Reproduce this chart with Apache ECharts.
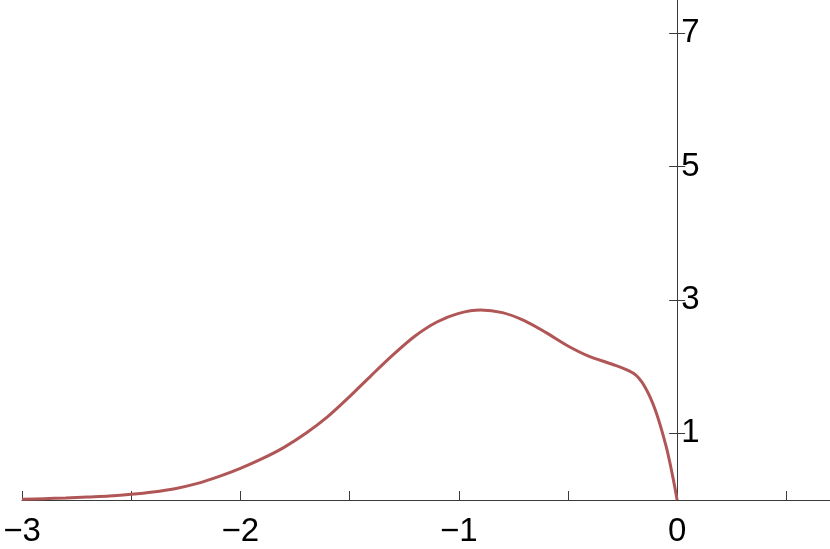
<!DOCTYPE html>
<html>
<head>
<meta charset="utf-8">
<script src="https://cdn.jsdelivr.net/npm/echarts@6/dist/echarts.min.js"></script>
<style>
  html, body { margin: 0; padding: 0; background: #fff; }
  #chart { width: 830px; height: 549px; }
</style>
</head>
<body>
<div id="chart"></div>
<script>
// curve samples
const xValues = [
  -3, -2.9, -2.8, -2.7, -2.6, -2.5, -2.4, -2.3, -2.2, -2.1,
  -2, -1.9, -1.8, -1.7, -1.6, -1.5, -1.4, -1.3, -1.2, -1.1,
  -1, -0.9, -0.8, -0.7, -0.6, -0.5, -0.4, -0.3, -0.2, -0.15,
  -0.1, -0.05, -0.02, 0
]
const yValues = [
  0.01, 0.02, 0.03, 0.045, 0.06, 0.085, 0.12, 0.17, 0.245, 0.35,
  0.475, 0.62, 0.79, 1.0, 1.25, 1.55, 1.87, 2.18, 2.46, 2.67,
  2.8, 2.85, 2.81, 2.69, 2.51, 2.31, 2.15, 2.04, 1.9, 1.71,
  1.35, 0.8, 0.35, 0
]

const xTicks = [-3, -2.5, -2, -1.5, -1, -0.5, 0, 0.5]
const xLabels = [-3, -2, -1, 0]
const yTicks = [1, 3, 5, 7]

const AXIS_COLOR = '#3a3a3a'
const CURVE_COLOR = '#b15656'
const FONT = 'Liberation Sans, Arial, sans-serif'
const GRID_LEFT = 22
const GRID_RIGHT = 0

const chart = echarts.init(document.getElementById('chart'), null, { renderer: 'canvas' })

function fmtMinus(v) {
  return v < 0 ? '\u2212' + Math.abs(v) : String(v)
}

function yAxisBase() {
  return {
    type: 'value',
    min: 0,
    max: 7.5,
    splitLine: { show: false },
    axisLine: { onZero: false, lineStyle: { color: AXIS_COLOR, width: 1 } },
    axisTick: { length: 8, customValues: yTicks, lineStyle: { color: AXIS_COLOR, width: 1 } }
  }
}

chart.setOption({
  animation: false,
  grid: { left: GRID_LEFT, right: GRID_RIGHT, top: 0, bottom: 49, containLabel: false, outerBoundsMode: 'none' },
  xAxis: {
    type: 'value',
    min: -3,
    max: 0.7,
    splitLine: { show: false },
    axisLine: { onZero: true, lineStyle: { color: AXIS_COLOR, width: 1 } },
    axisTick: { inside: true, length: 9, customValues: xTicks, lineStyle: { color: AXIS_COLOR, width: 1 } },
    axisLabel: {
      customValues: xLabels,
      formatter: fmtMinus,
      color: '#000',
      fontSize: 33,
      fontFamily: FONT,
      margin: 15
    }
  },
  yAxis: [
    Object.assign(yAxisBase(), {
      position: 'right',
      axisLabel: {
        customValues: yTicks,
        color: '#000',
        fontSize: 33,
        fontFamily: FONT,
        margin: 4
      }
    }),
    Object.assign(yAxisBase(), {
      position: 'left',
      axisLabel: { show: false }
    })
  ],
  series: [
    {
      type: 'line',
      data: xValues.map((x, i) => [x, yValues[i]]),
      smooth: 0.3,
      showSymbol: false,
      lineStyle: { color: CURVE_COLOR, width: 3 },
      itemStyle: { color: CURVE_COLOR }
    }
  ]
})

// move both y axes onto x = 0 (one carries the right half of each tick, the other the left half)
const zeroPx = chart.convertToPixel({ xAxisIndex: 0 }, 0)
const chartWidth = chart.getWidth()
chart.setOption({
  yAxis: [
    { offset: zeroPx - (chartWidth - GRID_RIGHT) },
    { offset: GRID_LEFT - zeroPx }
  ]
})
</script>
</body>
</html>
